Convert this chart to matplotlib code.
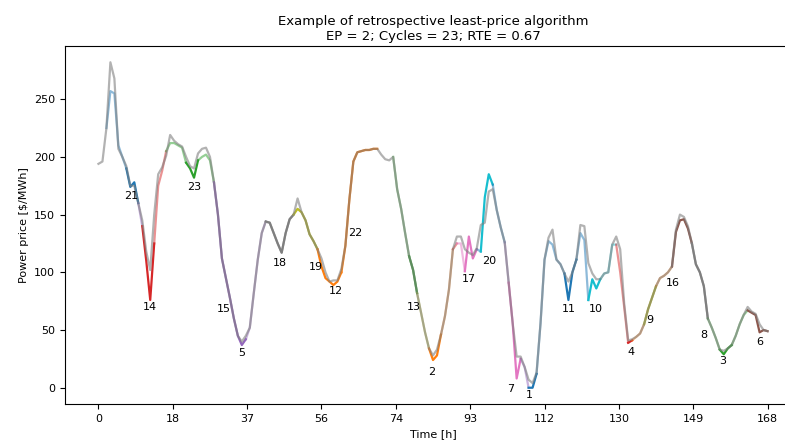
import matplotlib
matplotlib.use("Agg")
import matplotlib.pyplot as plt
import numpy as np

# Hourly power price (grey line), hours 0..168
price = [
    194, 196, 225, 282, 268, 207, 200, 192, 175, 175,
    160, 145, 118, 102, 150, 185, 191, 201, 219, 214,
    211, 209, 200, 192, 190, 203, 207, 208, 200, 178,
    150, 112, 95, 78, 60, 45, 40, 45, 52, 82,
    111, 134, 144, 143, 134, 125, 117, 134, 146, 150,
    164, 152, 145, 133, 127, 120, 112, 100, 92, 93,
    93, 103, 123, 163, 196, 204, 205, 206, 206, 207,
    207, 202, 198, 197, 200, 172, 155, 134, 114, 102,
    82, 65, 48, 34, 28, 33, 46, 62, 85, 120,
    131, 131, 120, 117, 115, 121, 141, 143, 170, 172,
    154, 139, 126, 91, 56, 27, 27, 18, 7, 4,
    13, 56, 111, 130, 137, 111, 107, 99, 92, 100,
    111, 141, 140, 108, 99, 94, 94, 99, 100, 124,
    131, 120, 73, 41, 42, 44, 47, 55, 68, 78,
    88, 95, 97, 100, 105, 137, 150, 148, 140, 125,
    107, 100, 88, 60, 52, 43, 33, 32, 34, 37,
    45, 55, 63, 70, 66, 64, 55, 50, 49,
]

# Hours where the cycle line departs from the price line
cycle_adjust = {
    3: 257, 4: 255, 5: 210, 7: 190, 8: 174, 9: 178, 11: 140, 12: 110,
    13: 76, 14: 125, 15: 175, 16: 188, 17: 205, 18: 212, 19: 212, 20: 210,
    21: 208, 22: 195, 23: 190, 24: 182, 25: 197, 26: 200, 27: 202, 28: 197,
    36: 37, 37: 42, 50: 155, 56: 105, 57: 95, 59: 89, 60: 92, 61: 100,
    84: 24, 85: 28, 90: 125, 91: 125, 92: 101, 93: 131, 94: 112, 95: 120,
    96: 118, 97: 165, 98: 185, 99: 176, 105: 8, 106: 25, 108: 0, 109: 0,
    110: 12, 113: 127, 114: 124, 118: 76, 121: 134, 122: 128, 123: 76,
    124: 94, 125: 86, 130: 124, 131: 100, 132: 70, 133: 39, 134: 41,
    145: 135, 146: 145, 147: 146, 148: 138, 157: 29, 163: 67, 164: 65,
    165: 63, 166: 48,
}

# (start hour, end hour, cycle number, strong colour?)
segments = [
    (2, 7, 21, False), (7, 10, 21, True), (10, 11, 15, False),
    (11, 14, 14, True), (14, 17, 14, False), (17, 22, 23, False),
    (22, 25, 23, True), (25, 29, 23, False), (29, 37, 15, True),
    (37, 42, 5, False), (42, 49, 18, True), (49, 55, 19, True),
    (55, 61, 12, True), (61, 70, 22, True), (74, 78, 13, False),
    (78, 80, 13, True), (80, 83, 9, False), (83, 86, 2, True),
    (86, 89, 2, False), (89, 90, 4, False), (90, 92, 17, False),
    (92, 95, 17, True), (95, 96, 1, False), (96, 99, 20, True),
    (99, 102, 1, False), (102, 103, 5, False), (103, 106, 7, True),
    (106, 108, 5, False), (108, 110, 1, True), (110, 117, 1, False),
    (117, 120, 11, True), (120, 123, 11, False), (123, 126, 10, True),
    (126, 130, 10, False), (130, 133, 4, False), (133, 134, 4, True),
    (134, 137, 2, False), (137, 140, 9, True), (140, 144, 2, False),
    (144, 149, 16, True), (149, 153, 8, True), (153, 156, 3, False),
    (156, 159, 3, True), (159, 163, 3, False), (163, 168, 6, True),
]

# Cycle labels (text, hour, price)
labels = [
    ("21", 8.1, 166), ("14", 12.9, 70), ("23", 24.0, 174), ("15", 31.5, 68),
    ("5", 35.9, 30), ("18", 45.5, 108), ("19", 54.5, 105), ("12", 59.5, 84),
    ("22", 64.6, 134), ("13", 79.1, 70), ("2", 83.7, 14), ("17", 93.0, 94),
    ("20", 98.2, 110), ("7", 103.4, -1), ("1", 108.3, -6), ("11", 118.1, 68),
    ("10", 125.0, 68), ("4", 133.6, 31), ("9", 138.5, 59), ("16", 144.1, 91),
    ("8", 151.9, 46), ("3", 156.8, 23), ("6", 166.0, 40),
]

hours = np.arange(len(price))
cycle_price = np.array(price, dtype=float)
for h, v in cycle_adjust.items():
    cycle_price[h] = v

colors = plt.rcParams["axes.prop_cycle"].by_key()["color"]

fig = plt.figure(figsize=(7.85, 4.41), dpi=100)
ax = fig.add_axes([0.0828, 0.0839, 0.9376, 0.8118])

for start, end, cyc, strong in segments:
    sl = slice(start, end + 1)
    ax.plot(hours[sl], cycle_price[sl], color=colors[(cyc - 1) % 10],
            lw=1.6, alpha=1.0 if strong else 0.5)

ax.plot(hours, price, color="grey", lw=1.6, alpha=0.6)

for txt, h, v in labels:
    ax.text(h, v, txt, ha="center", va="center", fontsize=8)

ticks = np.linspace(0, 168, 10)
ax.set_xticks(ticks)
ax.set_xticklabels([str(int(t)) for t in ticks])
ax.tick_params(labelsize=8)
ax.set_xlabel("Time [h]", fontsize=8)
ax.set_ylabel(r"Power price [\$/MWh]", fontsize=8)
ax.set_title("Example of retrospective least-price algorithm\n"
             "EP = 2; Cycles = 23; RTE = 0.67", fontsize=9.5, pad=4)

fig.savefig("out.png", dpi=100)
